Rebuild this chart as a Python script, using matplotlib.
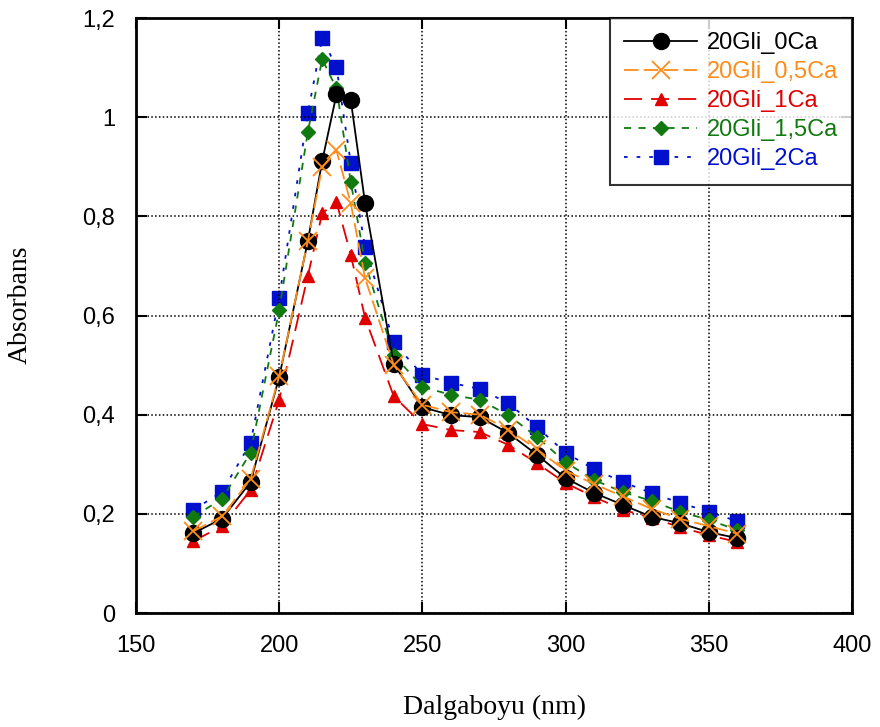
import matplotlib.pyplot as plt
from matplotlib.ticker import FuncFormatter

# wavelength points (nm)
wavelength = [170, 180, 190, 200, 210, 215, 220, 225, 230, 240, 250, 260,
              270, 280, 290, 300, 310, 320, 330, 340, 350, 360]

# absorbance for each sample
abs_0Ca = [0.161, 0.19, 0.264, 0.476, 0.75, 0.911, 1.046, 1.034, 0.826, 0.502, 0.415, 0.399,
           0.395, 0.363, 0.319, 0.272, 0.242, 0.218, 0.194, 0.181, 0.163, 0.151]
abs_05Ca = [0.165, 0.195, 0.27, 0.478, 0.75, 0.899, 0.933, 0.826, 0.675, 0.50, 0.42, 0.405,
            0.40, 0.37, 0.33, 0.287, 0.26, 0.235, 0.21, 0.19, 0.175, 0.16]
abs_1Ca = [0.145, 0.175, 0.248, 0.43, 0.68, 0.806, 0.829, 0.722, 0.595, 0.437, 0.381, 0.369,
           0.365, 0.339, 0.302, 0.262, 0.234, 0.208, 0.192, 0.173, 0.157, 0.143]
abs_15Ca = [0.194, 0.23, 0.323, 0.611, 0.97, 1.117, 1.058, 0.869, 0.706, 0.52, 0.456, 0.44,
            0.43, 0.399, 0.355, 0.304, 0.268, 0.244, 0.226, 0.204, 0.188, 0.167]
abs_2Ca = [0.208, 0.244, 0.343, 0.636, 1.008, 1.159, 1.101, 0.907, 0.738, 0.546, 0.48, 0.464,
           0.452, 0.423, 0.375, 0.323, 0.29, 0.264, 0.242, 0.222, 0.204, 0.185]

labels = ["20Gli_0Ca", "20Gli_0,5Ca", "20Gli_1Ca", "20Gli_1,5Ca", "20Gli_2Ca"]
colors = ["#000000", "#ff8c1a", "#e00000", "#107a10", "#0010cc"]

fig = plt.figure(figsize=(8.8, 7.27), dpi=100)
ax = fig.add_axes([136 / 880, 1 - 613 / 727, 716 / 880, 595 / 727])

ax.plot(wavelength, abs_0Ca, color=colors[0], ls="-", lw=1.3, marker="o", ms=11.5,
        label=labels[0], zorder=3)
ax.plot(wavelength, abs_05Ca, color=colors[1], ls=(0, (8, 3)), lw=1.3, marker="x", ms=13,
        mew=1.3, label=labels[1], zorder=4)
ax.plot(wavelength, abs_1Ca, color=colors[2], ls=(0, (10, 5)), lw=1.3, marker="^", ms=9,
        label=labels[2], zorder=2)
ax.plot(wavelength, abs_15Ca, color=colors[3], ls=(0, (4, 4)), lw=1.3, marker="D", ms=7,
        label=labels[3], zorder=2)
ax.plot(wavelength, abs_2Ca, color=colors[4], ls=(0, (2, 5)), lw=1.3, marker="s", ms=9.5,
        label=labels[4], zorder=1)

ax.set_xlim(150, 400)
ax.set_ylim(0, 1.2)
ax.set_xticks([150, 200, 250, 300, 350, 400])
ax.set_yticks([0, 0.2, 0.4, 0.6, 0.8, 1.0, 1.2])
ax.yaxis.set_major_formatter(FuncFormatter(lambda v, p: ("%g" % round(v, 2)).replace(".", ",")))
ax.grid(True, color="black", ls=(0, (1, 1.5)), lw=1.1)
ax.tick_params(direction="in", length=8, width=1.5, top=True, right=True, labelsize=17)
ax.tick_params(axis="x", pad=16)
ax.tick_params(axis="y", pad=15)
for lab in ax.get_xticklabels() + ax.get_yticklabels():
    lab.set_fontfamily("Liberation Sans")
for sp in ax.spines.values():
    sp.set_linewidth(2)

ax.set_xlabel("Dalgaboyu (nm)", fontsize=20, family="Liberation Serif", labelpad=27)
ax.set_ylabel("Absorbans", fontsize=20, family="Liberation Serif")
ax.yaxis.set_label_coords(-0.144, 0.518)

leg = ax.legend(loc="upper right", prop={"family": "Liberation Sans", "size": 17},
                frameon=True, fancybox=False, edgecolor="black", handlelength=3.1,
                handletextpad=0.4, borderaxespad=0, labelspacing=0.3, borderpad=0.6)
leg.get_frame().set_linewidth(1.5)
for txt, c in zip(leg.get_texts(), colors):
    txt.set_color(c)

fig.savefig("out.png", dpi=100)
